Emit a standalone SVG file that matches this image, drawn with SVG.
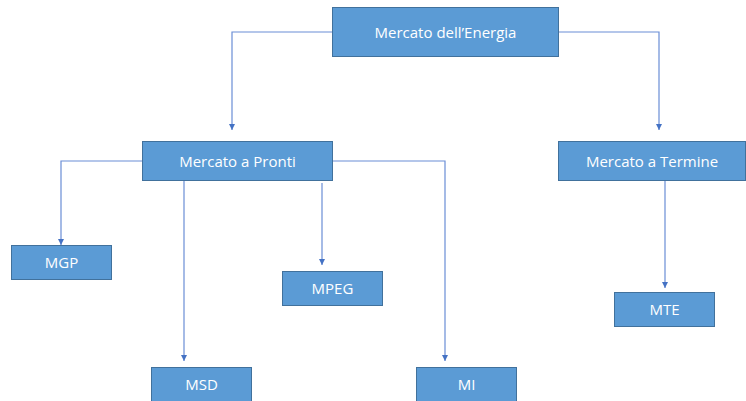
<svg xmlns="http://www.w3.org/2000/svg" width="746" height="401" viewBox="0 0 746 401">
<style>
.box{fill:#5B9BD5;stroke:#41719C;stroke-width:1}
.lbl{fill:#FFFFFF;font-family:"Open Sans","Liberation Sans",sans-serif;font-size:15px;text-anchor:middle}
.conn{fill:none;stroke:#6A8ED6;stroke-width:1.2}
</style>
<defs>
<marker id="arr" viewBox="0 0 8 8" refX="8" refY="4" markerWidth="6" markerHeight="6" markerUnits="userSpaceOnUse" orient="auto">
<path d="M0,0 L8,4 L0,8 Z" fill="#4472C4"/>
</marker>
</defs>
<rect width="746" height="401" fill="#FFFFFF"/>
<g id="connectors">
<polyline class="conn" points="332,32 232,32 232,130" marker-end="url(#arr)"/>
<polyline class="conn" points="559,32 659,32 659,130" marker-end="url(#arr)"/>
<polyline class="conn" points="142,161 61,161 61,245" marker-end="url(#arr)"/>
<polyline class="conn" points="184,181 184,361" marker-end="url(#arr)"/>
<polyline class="conn" points="322,183 322,265" marker-end="url(#arr)"/>
<polyline class="conn" points="333,161 445,161 445,361" marker-end="url(#arr)"/>
<polyline class="conn" points="665,181 665,288" marker-end="url(#arr)"/>
</g>
<g id="energia"><rect class="box" x="332.5" y="7.5" width="226" height="49"/><text class="lbl" x="445.5" y="37.5">Mercato dell’Energia</text></g>
<g id="pronti"><rect class="box" x="142.5" y="141.5" width="190" height="39"/><text class="lbl" x="237.5" y="166.5">Mercato a Pronti</text></g>
<g id="termine"><rect class="box" x="558.5" y="141.5" width="187" height="39"/><text class="lbl" x="652" y="166.5">Mercato a Termine</text></g>
<g id="mgp"><rect class="box" x="11.5" y="245.5" width="100" height="34"/><text class="lbl" x="61.5" y="268">MGP</text></g>
<g id="mpeg"><rect class="box" x="282.5" y="271.5" width="100" height="34"/><text class="lbl" x="332.5" y="294">MPEG</text></g>
<g id="msd"><rect class="box" x="151.5" y="367.5" width="100" height="36"/><text class="lbl" x="201.5" y="390">MSD</text></g>
<g id="mi"><rect class="box" x="416.5" y="367.5" width="100" height="36"/><text class="lbl" x="466.5" y="390">MI</text></g>
<g id="mte"><rect class="box" x="614.5" y="292.5" width="100" height="34"/><text class="lbl" x="664.5" y="315">MTE</text></g>
</svg>
